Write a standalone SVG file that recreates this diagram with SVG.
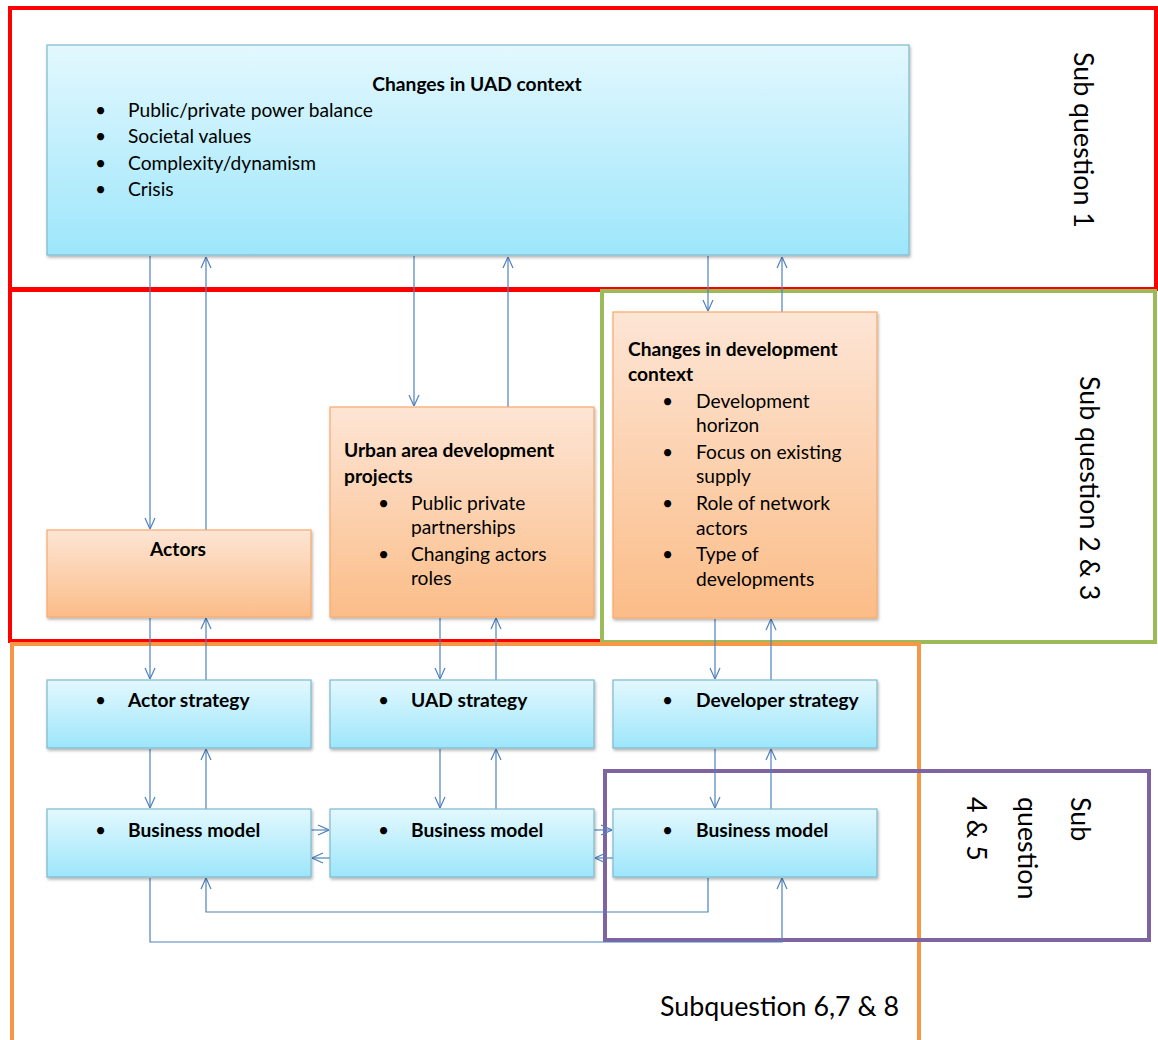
<svg xmlns="http://www.w3.org/2000/svg" width="1158" height="1040" viewBox="0 0 1158 1040">
  <style>
    text { font-family: Lato, "Open Sans", sans-serif; fill: #000; }
    .t { font-size: 19.2px; }
    .b { font-size: 19.2px; font-weight: bold; }
    .q { font-size: 26.8px; }
    .blue { fill: url(#gBlue); stroke: #7DB9CF; stroke-width: 1.2; filter: url(#sh); }
    .orng { fill: url(#gOrange); stroke: #F8A96B; stroke-width: 1.2; filter: url(#sh); }
    .frame { fill: none; stroke-width: 4; }
    .c { fill: none; stroke: #4F81BD; stroke-width: 1.2; }
    .ca { fill: none; stroke: #4F81BD; stroke-width: 1.2; marker-end: url(#arr); }
  </style>
  <defs>
    <linearGradient id="gBlue" x1="0" y1="0" x2="0" y2="1">
      <stop offset="0" stop-color="#E3F8FE"/>
      <stop offset="1" stop-color="#9DE6FB"/>
    </linearGradient>
    <linearGradient id="gOrange" x1="0" y1="0" x2="0" y2="1">
      <stop offset="0" stop-color="#FDE5D5"/>
      <stop offset="1" stop-color="#FBBD88"/>
    </linearGradient>
    <filter id="sh" x="-5%" y="-5%" width="110%" height="120%">
      <feDropShadow dx="1" dy="2" stdDeviation="1.5" flood-color="#000" flood-opacity="0.3"/>
    </filter>
    <marker id="arr" viewBox="0 0 12 12" refX="12" refY="6" markerWidth="12" markerHeight="12" markerUnits="userSpaceOnUse" orient="auto">
      <path d="M1,1 L12,6 L1,11" fill="none" stroke="#4F81BD" stroke-width="1.2"/>
    </marker>
  </defs>

  <rect width="1158" height="1040" fill="#fff"/>

  <!-- question frames -->
  <g id="frames">
    <rect class="frame" x="10" y="8" width="1146" height="281" stroke="#FF0000"/>
    <rect class="frame" x="10" y="290" width="592" height="351" stroke="#FF0000"/>
    <rect class="frame" x="602" y="291" width="553" height="351" stroke="#9BBB59"/>
    <rect class="frame" x="12" y="644" width="907" height="420" stroke="#F79646"/>
    <rect class="frame" x="605" y="771" width="544" height="169" stroke="#8064A2"/>
  </g>

  <!-- connectors -->
  <g id="connectors">
    <!-- context box <-> row 2 -->
    <line class="ca" x1="150" y1="256" x2="150" y2="529"/>
    <line class="ca" x1="206" y1="530" x2="206" y2="257"/>
    <line class="ca" x1="414" y1="256" x2="414" y2="406"/>
    <line class="ca" x1="508" y1="407" x2="508" y2="257"/>
    <line class="ca" x1="708" y1="256" x2="708" y2="311"/>
    <line class="ca" x1="782" y1="312" x2="782" y2="257"/>
    <!-- row 2 <-> strategies -->
    <line class="ca" x1="150" y1="618" x2="150" y2="679"/>
    <line class="ca" x1="206" y1="680" x2="206" y2="618"/>
    <line class="ca" x1="440" y1="618" x2="440" y2="679"/>
    <line class="ca" x1="496" y1="680" x2="496" y2="618"/>
    <line class="ca" x1="715" y1="619" x2="715" y2="679"/>
    <line class="ca" x1="771" y1="680" x2="771" y2="619"/>
    <!-- strategies <-> business models -->
    <line class="ca" x1="150" y1="749" x2="150" y2="808"/>
    <line class="ca" x1="206" y1="809" x2="206" y2="749"/>
    <line class="ca" x1="440" y1="749" x2="440" y2="808"/>
    <line class="ca" x1="496" y1="809" x2="496" y2="749"/>
    <line class="ca" x1="715" y1="749" x2="715" y2="808"/>
    <line class="ca" x1="771" y1="809" x2="771" y2="749"/>
    <!-- between business models -->
    <line class="ca" x1="311" y1="830" x2="329" y2="830"/>
    <line class="ca" x1="330" y1="858" x2="312" y2="858"/>
    <line class="ca" x1="594" y1="830" x2="612" y2="830"/>
    <line class="ca" x1="613" y1="858" x2="595" y2="858"/>
    <!-- feedback loops underneath -->
    <polyline class="ca" points="708,878 708,912 206,912 206,878"/>
    <polyline class="ca" points="150,878 150,942 782,942 782,878"/>
  </g>

  <!-- top context box -->
  <g id="uad-context">
    <rect class="blue" x="47" y="45" width="862" height="210"/>
    <text class="b" x="477" y="91" text-anchor="middle">Changes in UAD context</text>
    <g class="t">
      <text x="95" y="117">•</text><text x="128" y="117">Public/private power balance</text>
      <text x="95" y="143">•</text><text x="128" y="143">Societal values</text>
      <text x="95" y="170">•</text><text x="128" y="170">Complexity/dynamism</text>
      <text x="95" y="196">•</text><text x="128" y="196">Crisis</text>
    </g>
  </g>

  <g id="actors">
    <rect class="orng" x="47" y="530" width="264" height="87"/>
    <text class="b" x="178" y="556" text-anchor="middle">Actors</text>
  </g>

  <g id="uad-projects">
    <rect class="orng" x="330" y="407" width="264" height="210"/>
    <text class="b" x="344" y="457">Urban area development</text>
    <text class="b" x="344" y="483">projects</text>
    <g class="t">
      <text x="378" y="510">•</text><text x="411" y="510">Public private</text>
      <text x="411" y="534">partnerships</text>
      <text x="378" y="561">•</text><text x="411" y="561">Changing actors</text>
      <text x="411" y="585">roles</text>
    </g>
  </g>

  <g id="development-context">
    <rect class="orng" x="613" y="312" width="264" height="306"/>
    <text class="b" x="628" y="356">Changes in development</text>
    <text class="b" x="628" y="381">context</text>
    <g class="t">
      <text x="662" y="408">•</text><text x="696" y="408">Development</text>
      <text x="696" y="432">horizon</text>
      <text x="662" y="459">•</text><text x="696" y="459">Focus on existing</text>
      <text x="696" y="483">supply</text>
      <text x="662" y="510">•</text><text x="696" y="510">Role of network</text>
      <text x="696" y="535">actors</text>
      <text x="662" y="561">•</text><text x="696" y="561">Type of</text>
      <text x="696" y="586">developments</text>
    </g>
  </g>

  <g id="actor-strategy">
    <rect class="blue" x="47" y="680" width="264" height="68"/>
    <text class="t" x="95" y="707">•</text><text class="b" x="128" y="707">Actor strategy</text>
  </g>
  <g id="uad-strategy">
    <rect class="blue" x="330" y="680" width="264" height="68"/>
    <text class="t" x="378" y="707">•</text><text class="b" x="411" y="707">UAD strategy</text>
  </g>
  <g id="developer-strategy">
    <rect class="blue" x="613" y="680" width="264" height="68"/>
    <text class="t" x="662" y="707">•</text><text class="b" x="696" y="707">Developer strategy</text>
  </g>

  <g id="business-model-1">
    <rect class="blue" x="47" y="809" width="264" height="68"/>
    <text class="t" x="95" y="837">•</text><text class="b" x="128" y="837">Business model</text>
  </g>
  <g id="business-model-2">
    <rect class="blue" x="330" y="809" width="264" height="68"/>
    <text class="t" x="378" y="837">•</text><text class="b" x="411" y="837">Business model</text>
  </g>
  <g id="business-model-3">
    <rect class="blue" x="613" y="809" width="264" height="68"/>
    <text class="t" x="662" y="837">•</text><text class="b" x="696" y="837">Business model</text>
  </g>

  <!-- frame labels -->
  <g id="labels">
    <text class="q" transform="translate(1074,52) rotate(90)">Sub question 1</text>
    <text class="q" transform="translate(1080,376) rotate(90)">Sub question 2 &amp; 3</text>
    <text class="q" transform="translate(1071,797) rotate(90)">
      <tspan x="0" y="0">Sub</tspan>
      <tspan x="0" y="53">question</tspan>
      <tspan x="0" y="104">4 &amp; 5</tspan>
    </text>
    <text class="q" x="660" y="1016">Subquestion 6,7 &amp; 8</text>
  </g>
</svg>
